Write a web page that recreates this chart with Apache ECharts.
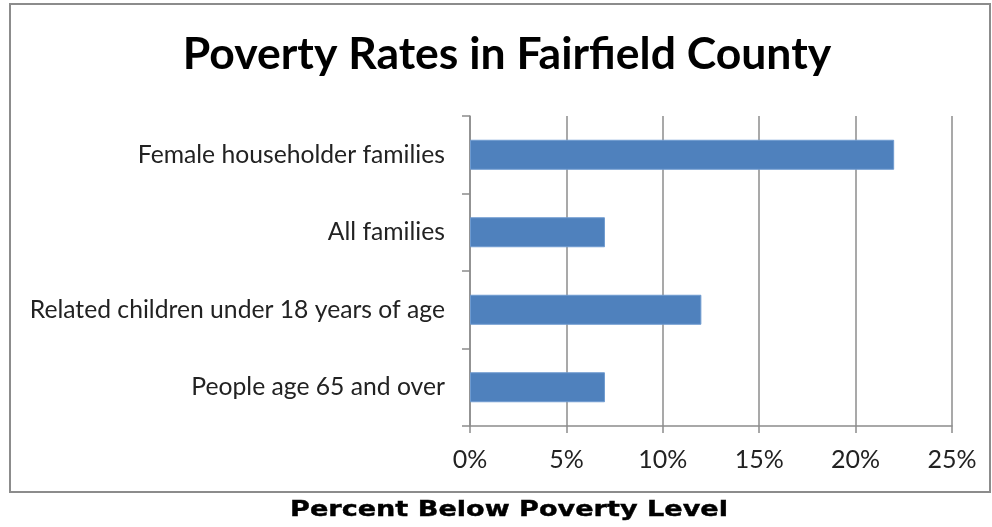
<!DOCTYPE html>
<html><head><meta charset="utf-8">
<script src="https://cdn.jsdelivr.net/npm/echarts@6/dist/echarts.min.js"></script>
<style>html,body{margin:0;padding:0;background:#fff}#c{width:992px;height:527px}</style>
</head><body><div id="c"></div>
<script>
const categories = ["Female householder families", "All families", "Related children under 18 years of age", "People age 65 and over"];
const values = [22, 7, 12, 7];
const xTicks = [0, 5, 10, 15, 20, 25];
const titleText = "Poverty Rates in Fairfield County";
const axisTitle = "Percent Below Poverty Level";

const chart = echarts.init(document.getElementById('c'));
chart.setOption({
  animation: false,
  backgroundColor: '#fff',
  title: {
    text: titleText, left: 502, textAlign: 'center', top: 27,
    textStyle: {fontFamily: 'Lato', fontWeight: 'bold', fontSize: 44.5, color: '#000'}
  },
  graphic: [
    {type: 'rect', shape: {x: 10, y: 4, width: 980, height: 488}, style: {fill: 'none', stroke: '#8c8c8c', lineWidth: 2}, z: -1},
    {type: 'text', x: 509, y: 511, scaleX: 1.29, originX: 0, originY: 0,
     style: {text: axisTitle, font: 'bold 21px "DejaVu Sans"', fill: '#000', stroke: '#000', lineWidth: 0.4, align: 'center', verticalAlign: 'middle'}}
  ],
  grid: {left: 470, right: 40, top: 116, bottom: 101, containLabel: false},
  xAxis: {
    type: 'value', min: xTicks[0], max: xTicks[xTicks.length - 1], interval: 5,
    axisLine: {show: true, lineStyle: {color: '#8c8c8c', width: 1.5}},
    axisTick: {show: true, length: 7, lineStyle: {color: '#8c8c8c', width: 1.5}},
    splitLine: {show: true, lineStyle: {color: '#8c8c8c', width: 1.5}},
    axisLabel: {formatter: '{value}%', fontFamily: 'Lato', fontSize: 25, color: '#222', margin: 21}
  },
  yAxis: {
    type: 'category', data: categories, inverse: true,
    axisLine: {show: true, lineStyle: {color: '#8c8c8c', width: 1.5}},
    axisTick: {show: true, length: 8, lineStyle: {color: '#8c8c8c', width: 1.5}},
    axisLabel: {fontFamily: 'Lato', fontSize: 24.7, color: '#222', margin: 25}
  },
  series: [{
    type: 'bar', data: values, barWidth: 30,
    itemStyle: {color: '#4f81bd', borderColor: '#6f9bd0', borderWidth: 1}
  }]
});
</script></body></html>
